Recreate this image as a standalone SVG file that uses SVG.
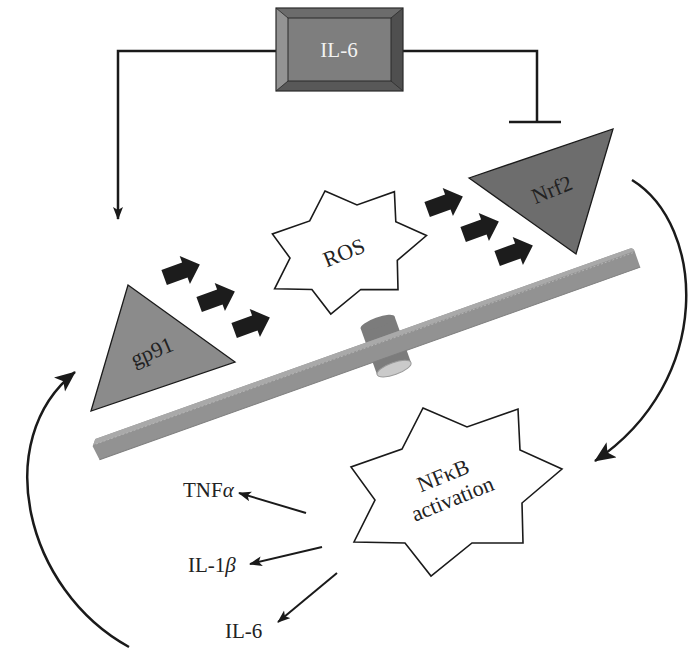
<svg xmlns="http://www.w3.org/2000/svg" width="689" height="650" viewBox="0 0 689 650">
<style>
.lbl{font-family:"Liberation Serif","Times New Roman",serif;fill:#222;}
.big{font-size:22px;text-anchor:middle;}
.cyt{font-size:21px;}
.conn{fill:none;stroke:#1a1a1a;stroke-width:2.5;}
.thin{fill:none;stroke:#1a1a1a;stroke-width:2;}
.star{fill:#fff;stroke:#1a1a1a;stroke-width:1.6;stroke-linejoin:miter;}
.tri{stroke:#1a1a1a;stroke-width:1.3;}
.blk{fill:#1c1c1c;}
</style>
<defs>
<marker id="ahBig" markerUnits="userSpaceOnUse" markerWidth="24" markerHeight="20" refX="20" refY="9" orient="auto">
<path d="M0,0 L21,9 L0,18 L5,9 Z" fill="#1a1a1a"/>
</marker>
<marker id="ahSm" markerUnits="userSpaceOnUse" markerWidth="14" markerHeight="12" refX="12" refY="5" orient="auto">
<path d="M0,0 L13,5 L0,10 L3,5 Z" fill="#1a1a1a"/>
</marker>
<path id="blockArrow" d="M-19,-8 H3 V-15 L19,0 L3,15 V8 H-19 Z"/>
</defs>
<rect width="689" height="650" fill="#fff"/>

<!-- membrane / seesaw -->
<g id="membrane" transform="translate(386,346) rotate(-19.6)">
<rect x="-18" y="-25" width="36" height="49" fill="#7c7c7c"/>
<ellipse cx="0" cy="-25" rx="18" ry="5" fill="#7c7c7c"/>
<ellipse cx="0" cy="24" rx="18" ry="6" fill="#cacaca" stroke="#9a9a9a" stroke-width="1"/>
<path d="M-305,-10 L262,-10 Q266,-10 266,-6 L266,11 L-308,11 L-310,-4 Z" fill="#929292"/>
<path d="M-305,-10 L262,-10 Q266,-10 266,-6 L-309,-5 Z" fill="#a9a9a9"/>
<line x1="-306" y1="-5" x2="264" y2="-5" stroke="#b8b8b8" stroke-width="0.8" stroke-dasharray="2,2"/>
<line x1="-308" y1="11" x2="266" y2="11" stroke="#7e7e7e" stroke-width="1"/>
</g>

<!-- connectors -->
<g id="connectors">
<polyline class="conn" points="276,51 118,51 118,219" marker-end="url(#ahSm)"/>
<polyline class="conn" points="403,51 537,51 537,122"/>
<line class="conn" x1="509" y1="122" x2="561" y2="122"/>
<path class="conn" d="M632,180 C705,225 715,380 595,461" marker-end="url(#ahBig)"/>
<path class="conn" d="M129,647 C25,590 -10,440 75,372" marker-end="url(#ahBig)"/>
<line class="thin" x1="306" y1="513" x2="239" y2="493" marker-end="url(#ahSm)"/>
<line class="thin" x1="322" y1="547" x2="250" y2="564" marker-end="url(#ahSm)"/>
<line class="thin" x1="337" y1="573" x2="278" y2="622" marker-end="url(#ahSm)"/>
<g id="flow-arrows" class="blk">
<use href="#blockArrow" transform="translate(182,271) rotate(-20)"/>
<use href="#blockArrow" transform="translate(217,298) rotate(-20)"/>
<use href="#blockArrow" transform="translate(252,324) rotate(-20)"/>
<use href="#blockArrow" transform="translate(445,203) rotate(-20)"/>
<use href="#blockArrow" transform="translate(481,228) rotate(-20)"/>
<use href="#blockArrow" transform="translate(515,252) rotate(-20)"/>
</g>
</g>

<!-- IL-6 box -->
<g id="il6">
<rect x="276" y="8" width="127" height="83" fill="#6c6c6c"/>
<polygon points="276,8 288,18 288,81 276,91" fill="#939393"/>
<polygon points="403,8 391,18 391,81 403,91" fill="#4f4f4f"/>
<polygon points="276,91 288,81 391,81 403,91" fill="#585858"/>
<rect x="288" y="18" width="103" height="63" fill="#7e7e7e" stroke="#2a2a2a" stroke-width="1"/>
<line x1="276" y1="8" x2="288" y2="18" stroke="#2a2a2a" stroke-width="0.8"/>
<line x1="403" y1="8" x2="391" y2="18" stroke="#2a2a2a" stroke-width="0.8"/>
<line x1="276" y1="91" x2="288" y2="81" stroke="#2a2a2a" stroke-width="0.8"/>
<line x1="403" y1="91" x2="391" y2="81" stroke="#2a2a2a" stroke-width="0.8"/>
<rect x="276" y="8" width="127" height="83" fill="none" stroke="#2a2a2a" stroke-width="1.2"/>
<text class="lbl" x="339" y="57" font-size="21" text-anchor="middle" style="fill:#f2f2f2">IL-6</text>
</g>

<!-- Nrf2 -->
<g id="nrf2">
<polygon class="tri" points="469,178 613,129 576,254" fill="#6d6d6d"/>
<text class="lbl big" transform="translate(552,190) rotate(-22)" y="7">Nrf2</text>
</g>

<!-- gp91 -->
<g id="gp91">
<polygon class="tri" points="128,285 235,362 91,411" fill="#8b8b8b"/>
<text class="lbl big" transform="translate(152,352) rotate(-23)" y="7">gp91</text>
</g>

<!-- ROS -->
<g id="ros">
<polygon class="star" points="325,191 357,205 394.4,191.7 395.8,221.7 426.5,235.5 397.3,260.4 398,289.6 360.8,289.5 330.8,314 311.9,289.5 274.6,288.8 290,258 272.4,234 309.7,220.9"/>
<text class="lbl big" transform="translate(344,253) rotate(-22)" y="7">ROS</text>
</g>

<!-- NFkB activation -->
<g id="nfkb">
<polygon class="star" points="423,408 467,427 518,409 520,450 562,469 522,503 523,543 472,543 431,576 405,543 354,542 375,500 351,467 402,449"/>
<text class="lbl big" transform="translate(448,488) rotate(-22)"><tspan x="0" y="-6">NFκB</tspan><tspan x="0" y="19">activation</tspan></text>
</g>

<!-- cytokines -->
<g id="tnfa"><text class="lbl cyt" x="183" y="497">TNF<tspan font-style="italic">α</tspan></text></g>
<g id="il1b"><text class="lbl cyt" x="188" y="572">IL-1<tspan font-style="italic">β</tspan></text></g>
<g id="il6out"><text class="lbl cyt" x="225" y="638">IL-6</text></g>
</svg>
